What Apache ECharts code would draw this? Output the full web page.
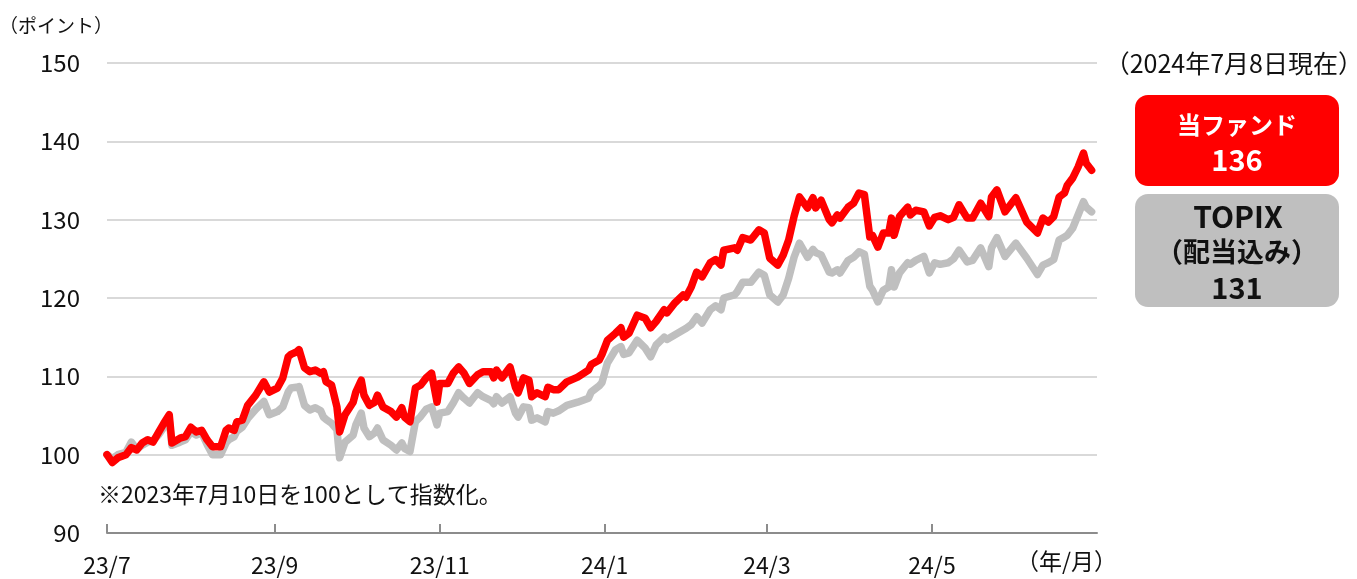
<!DOCTYPE html>
<html>
<head>
<meta charset="utf-8">
<script src="https://cdn.jsdelivr.net/npm/echarts@6/dist/echarts.min.js"></script>
<style>
html,body{margin:0;padding:0;background:#fff;}
#chart{width:1357px;height:579px;}
</style>
</head>
<body>
<div id="chart"></div>
<script>
// ---- data ----
const dates = [
'2023-07-10','2023-07-12','2023-07-14','2023-07-17','2023-07-19','2023-07-21','2023-07-23','2023-07-25','2023-07-27','2023-07-29',
'2023-07-31','2023-08-02','2023-08-03','2023-08-06','2023-08-08','2023-08-10','2023-08-12','2023-08-14','2023-08-16','2023-08-18',
'2023-08-21','2023-08-23','2023-08-24','2023-08-26','2023-08-27','2023-08-29','2023-08-31','2023-09-03','2023-09-06','2023-09-08',
'2023-09-11','2023-09-13','2023-09-15','2023-09-16','2023-09-18','2023-09-19','2023-09-21','2023-09-23','2023-09-25','2023-09-27',
'2023-09-28','2023-09-29','2023-10-01','2023-10-03','2023-10-04','2023-10-06','2023-10-09','2023-10-10','2023-10-12','2023-10-13',
'2023-10-15','2023-10-17','2023-10-18','2023-10-20','2023-10-23','2023-10-25','2023-10-27','2023-10-28','2023-10-30','2023-11-01',
'2023-11-03','2023-11-05','2023-11-07','2023-11-09','2023-11-10','2023-11-13','2023-11-15','2023-11-17','2023-11-19','2023-11-21',
'2023-11-24','2023-11-26','2023-11-29','2023-11-30','2023-12-01','2023-12-03','2023-12-06','2023-12-08','2023-12-09','2023-12-11',
'2023-12-13','2023-12-14','2023-12-16','2023-12-19','2023-12-20','2023-12-22','2023-12-24','2023-12-27','2023-12-31','2024-01-04',
'2024-01-05','2024-01-08','2024-01-09','2024-01-11','2024-01-14','2024-01-16','2024-01-17','2024-01-19','2024-01-22','2024-01-25',
'2024-01-27','2024-01-29','2024-02-01','2024-02-02','2024-02-05','2024-02-08','2024-02-09','2024-02-11','2024-02-13','2024-02-15',
'2024-02-18','2024-02-20','2024-02-22','2024-02-23','2024-02-27','2024-02-28','2024-03-01','2024-03-04','2024-03-07','2024-03-09',
'2024-03-11','2024-03-14','2024-03-16','2024-03-18','2024-03-20','2024-03-22','2024-03-25','2024-03-27','2024-03-28','2024-03-30',
'2024-04-02','2024-04-03','2024-04-05','2024-04-06','2024-04-09','2024-04-11','2024-04-13','2024-04-15','2024-04-17','2024-04-18',
'2024-04-20','2024-04-22','2024-04-24','2024-04-25','2024-04-26','2024-04-28','2024-05-01','2024-05-02','2024-05-04','2024-05-07',
'2024-05-09','2024-05-11','2024-05-13','2024-05-16','2024-05-18','2024-05-20','2024-05-23','2024-05-25','2024-05-28','2024-05-31',
'2024-06-01','2024-06-03','2024-06-06','2024-06-10','2024-06-14','2024-06-18','2024-06-20','2024-06-22','2024-06-24','2024-06-26',
'2024-06-28','2024-06-29','2024-07-01','2024-07-03','2024-07-05','2024-07-06','2024-07-08'
];
const fundValues = [
100.0,99.0,99.6,100.0,100.9,100.6,101.5,101.9,101.6,102.8,
104.0,105.1,101.5,102.1,102.3,103.5,102.9,103.1,101.9,101.0,
101.0,103.1,103.4,103.1,104.2,104.4,106.3,107.6,109.3,108.0,
108.5,109.8,112.5,112.8,113.1,113.4,111.1,110.6,110.8,110.4,
110.6,109.3,108.9,106.1,102.9,105.1,106.7,108.0,109.5,107.6,
106.3,106.7,107.6,106.1,105.5,104.8,106.0,104.8,104.2,108.5,
108.9,109.8,110.4,106.7,109.1,109.1,110.4,111.2,110.4,109.1,
110.2,110.6,110.6,109.8,110.8,109.8,111.2,108.6,107.9,109.8,
109.5,107.4,107.9,107.4,108.6,108.3,108.3,109.3,109.9,110.8,
111.5,112.1,112.8,114.6,115.5,116.2,115.0,115.5,117.8,117.4,
116.2,117.0,118.5,118.1,119.4,120.4,120.1,121.4,123.3,122.7,
124.5,124.9,124.2,126.1,126.4,126.1,127.7,127.4,128.7,128.3,
125.1,124.2,125.5,127.4,130.4,132.9,131.5,132.8,131.5,132.5,
130.0,129.6,130.6,130.2,131.6,132.1,133.4,133.2,127.8,128.0,
126.5,128.3,128.3,130.2,128.0,130.4,131.6,130.6,131.2,131.0,
129.2,130.3,130.5,130.0,130.3,131.9,130.2,130.2,132.1,130.4,
132.9,133.8,131.0,132.8,129.7,128.3,130.2,129.7,130.4,132.9,
133.4,134.4,135.3,136.7,138.5,137.2,136.3
];
const topixValues = [
100.0,99.5,100.0,100.3,101.6,100.7,101.2,101.6,101.8,102.5,
103.5,104.4,101.2,101.6,101.9,102.9,102.5,102.8,101.3,100.0,
100.0,101.5,101.9,102.3,103.0,103.5,104.6,105.8,106.8,105.1,
105.5,106.1,108.0,108.5,108.6,108.7,106.3,105.7,106.0,105.6,
104.8,104.5,104.0,103.2,99.6,101.6,102.5,103.8,105.3,103.4,
102.3,102.8,103.4,101.9,101.2,100.6,101.5,100.8,100.4,104.2,
104.9,105.8,106.1,103.8,105.3,105.5,106.6,107.9,107.2,106.6,
107.9,107.4,106.9,106.5,107.4,106.6,107.4,105.3,104.8,106.1,
106.0,104.4,104.7,104.2,105.5,105.3,105.6,106.3,106.7,107.2,
108.0,108.8,109.2,111.7,113.4,113.8,112.8,113.0,114.6,113.6,
112.5,114.0,115.0,114.7,115.3,115.9,116.1,116.6,117.6,116.8,
118.5,119.0,118.5,120.0,120.4,120.8,122.0,122.0,123.3,122.9,
120.4,119.5,120.4,122.5,125.2,127.0,125.2,126.2,125.8,125.5,
123.3,123.2,123.6,123.2,124.8,125.2,125.9,125.6,121.5,121.0,
119.5,121.0,121.4,123.6,121.4,123.2,124.5,124.3,124.8,125.3,
123.2,124.5,124.3,124.5,125.0,126.1,124.6,124.8,126.4,124.0,
126.4,127.7,125.3,127.0,125.1,123.0,124.2,124.5,124.9,127.4,
127.8,128.0,128.9,130.6,132.3,131.6,131.0
];
const tickDates = ['2023-07-10','2023-09-10','2023-11-10','2024-01-10','2024-03-10','2024-05-10'];
const tickLabels = ['23/7','23/9','23/11','24/1','24/3','24/5'];
const axisStart = '2023-07-10';
const axisEnd = '2024-07-10';
const yMin = 90, yMax = 150, yStep = 10;
const fundName = '当ファンド';
const topixName = 'TOPIX（配当込み）';
const fundLast = '136';
const topixLast = '131';

// ---- helpers ----
function ts(s){ const p = s.split('-').map(Number); return Date.UTC(p[0], p[1]-1, p[2]); }
const tickTs = tickDates.map(ts);
const fundData = dates.map((d,i)=>[ts(d), fundValues[i]]);
const topixData = dates.map((d,i)=>[ts(d), topixValues[i]]);

const FONT = '"Noto Sans CJK JP", "Noto Sans", sans-serif';
const chart = echarts.init(document.getElementById('chart'), null, {renderer:'canvas'});
chart.setOption({
  animation:false,
  backgroundColor:'#ffffff',
  textStyle:{fontFamily:FONT},
  grid:{left:107, right:260, top:63, bottom:46},
  xAxis:{
    type:'value',
    min:ts(axisStart), max:ts(axisEnd),
    axisLine:{show:true, lineStyle:{color:'#8c8c8c', width:2}},
    axisTick:{show:true, inside:true, length:9, lineStyle:{color:'#8c8c8c', width:2}, customValues:tickTs},
    axisLabel:{
      customValues:tickTs,
      color:'#111', fontSize:23, fontFamily:FONT, margin:21,
      formatter:function(v){ const i = tickTs.indexOf(v); return i>=0 ? tickLabels[i] : ''; }
    },
    splitLine:{show:false}
  },
  yAxis:{
    type:'value', min:yMin, max:yMax, interval:yStep,
    axisLine:{show:false}, axisTick:{show:false},
    axisLabel:{color:'#111', fontSize:24, fontFamily:FONT, margin:27},
    splitLine:{show:true, lineStyle:{color:'#d9d9d9', width:2}}
  },
  series:[
    {name:topixName, type:'line', data:topixData, showSymbol:false, symbol:'none',
     lineStyle:{color:'#bfbfbf', width:7.5, join:'round', cap:'round'}, z:2},
    {name:fundName, type:'line', data:fundData, showSymbol:false, symbol:'none',
     lineStyle:{color:'#ff0000', width:7.5, join:'round', cap:'round'}, z:3}
  ],
  graphic:[
    {type:'text', left:-1, top:16, style:{text:'（ポイント）', fontSize:19, fontFamily:FONT, fill:'#111'}},
    {type:'text', left:98, top:483, style:{text:'※2023年7月10日を100として指数化。', fontSize:23, fontFamily:FONT, fill:'#111'}},
    {type:'text', left:1016, top:550, style:{text:'（年/月）', fontSize:23, fontFamily:FONT, fill:'#111'}},
    {type:'text', right:-6, top:51, style:{text:'（2024年7月8日現在）', fontSize:25, fontFamily:FONT, fill:'#111'}},
    {type:'rect', shape:{x:1135, y:95, width:204, height:91, r:13}, style:{fill:'#ff0000'}},
    {type:'text', x:1237, y:125, style:{text:'当ファンド', fontSize:24, fontWeight:'bold', fontFamily:FONT, fill:'#fff', align:'center', verticalAlign:'middle'}},
    {type:'text', x:1237, y:160, style:{text:fundLast, fontSize:29, fontWeight:'bold', fontFamily:FONT, fill:'#fff', align:'center', verticalAlign:'middle'}},
    {type:'rect', shape:{x:1135, y:194, width:204, height:113, r:13}, style:{fill:'#bfbfbf'}},
    {type:'text', x:1238, y:217, style:{text:'TOPIX', fontSize:30, fontWeight:'bold', fontFamily:FONT, fill:'#111', align:'center', verticalAlign:'middle'}},
    {type:'text', x:1237, y:252, style:{text:'（配当込み）', fontSize:27, fontWeight:'bold', fontFamily:FONT, fill:'#111', align:'center', verticalAlign:'middle'}},
    {type:'text', x:1237, y:288, style:{text:topixLast, fontSize:29, fontWeight:'bold', fontFamily:FONT, fill:'#111', align:'center', verticalAlign:'middle'}}
  ]
});
</script>
</body>
</html>
